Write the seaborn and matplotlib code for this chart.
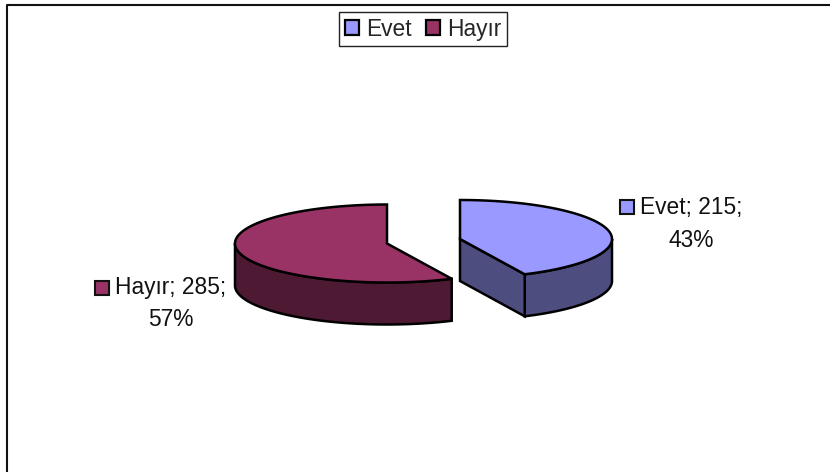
import numpy as np
import matplotlib
matplotlib.use('Agg')
import matplotlib.pyplot as plt
from matplotlib.patches import Patch
import seaborn as sns

labels = ['Evet', 'Hayır']
values = [215, 285]
top_colors = ['#9999ff', '#993366']
side_colors = ['#4d4d80', '#4d1933']

sns.set_theme(style='white')
plt.rcParams['font.family'] = ['Liberation Sans', 'DejaVu Sans']

rx, ry, depth = 152, 39, 42
centers = [(460, 239), (387, 243.5)]


def rim(a0, a1, cx, cy):
    # angles clockwise from 12 o'clock, squashed to fake the 3d look
    t = np.radians(np.linspace(a0, a1, 120))
    return cx + rx * np.sin(t), cy - ry * np.cos(t)


fig = plt.figure(figsize=(8.3, 4.72), dpi=100)
ax = fig.add_axes([0, 0, 1, 1])
ax.set_xlim(0, 830)
ax.set_ylim(472, 0)
ax.axis('off')

total = sum(values)
split = 360 * values[0] / total

# border of the chart area
ax.plot([7, 7, 830], [472, 5, 5], color='#111111', lw=1.5, clip_on=False)

lw = 1.8
# Evet slice
cx, cy = centers[0]
x, y = rim(90, split, cx, cy)
ax.fill(np.r_[x, x[::-1]], np.r_[y, y[::-1] + depth], fc=side_colors[0], ec='black', lw=lw)
ax.fill([cx, x[-1], x[-1], cx], [cy, y[-1], y[-1] + depth, cy + depth], fc=side_colors[0], ec='black', lw=lw)
x, y = rim(0, split, cx, cy)
ax.fill(np.r_[cx, x], np.r_[cy, y], fc=top_colors[0], ec='black', lw=lw)

# Hayir slice
cx, cy = centers[1]
x, y = rim(split, 270, cx, cy)
ax.fill(np.r_[x, x[::-1]], np.r_[y, y[::-1] + depth], fc=side_colors[1], ec='black', lw=lw)
x, y = rim(split, 360, cx, cy)
ax.fill(np.r_[cx, x], np.r_[cy, y], fc=top_colors[1], ec='black', lw=lw)

# data labels
for lab, val, col, sq, tx, ty in [
    (labels[0], values[0], top_colors[0], (627, 207), 691, 224),
    (labels[1], values[1], top_colors[1], (101.5, 288), 171, 303.5),
]:
    pct = round(100 * val / total)
    ax.text(tx, ty, f'{lab}; {val};\n{pct}%', ha='center', va='center',
            fontsize=16.4, color='#111111', linespacing=1.55)
    ax.plot(*sq, marker='s', ms=9.5, mfc=col, mec='#111111', mew=1.5)

handles = [Patch(fc=c, ec='black', lw=1.6) for c in top_colors]
leg = ax.legend(handles, labels, ncol=2, loc='upper center', bbox_to_anchor=(423 / 830, 1 - 12 / 472),
                fontsize=16.4, frameon=True, fancybox=False, framealpha=1, edgecolor='#222222',
                handlelength=0.65, handleheight=0.65, handletextpad=0.3, columnspacing=0.6,
                borderpad=0.25, borderaxespad=0)
leg.get_frame().set_linewidth(1.0)

fig.savefig('out.png', dpi=100)
